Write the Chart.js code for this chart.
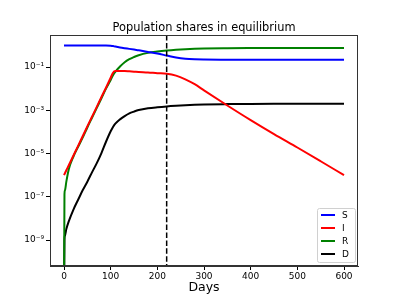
<!DOCTYPE html>
<html><head><meta charset="utf-8">
<script src="https://cdn.jsdelivr.net/npm/chart.js@4"></script>
<style>html,body{margin:0;padding:0;background:#fff}#c{display:block}</style>
</head><body>
<canvas id="c" width="399" height="299"></canvas>
<script>
const days = [0,1,2,5,10,20,30,40,50,60,70,80,90,100,105,110,120,130,140,150,160,180,200,220,240,260,280,300,350,400,450,500,550,600];
const susceptible = [0.99,0.99,0.99,0.99,0.99,0.99,0.99,0.99,0.99,0.99,0.99,0.99,0.99,0.96,0.93,0.88,0.80,0.74,0.69,0.64,0.59,0.50,0.42,0.34,0.275,0.24,0.226,0.221,0.218,0.216,0.215,0.215,0.215,0.215];
const infected = [1.0e-6,1.1e-6,1.23e-6,1.68e-6,2.8e-6,7.9e-6,2.2e-5,6.3e-5,1.8e-4,5.0e-4,1.4e-3,4.0e-3,1.1e-2,3.2e-2,0.054,0.065,0.066,0.065,0.063,0.061,0.059,0.056,0.052,0.049,0.040,0.027,0.0160,0.0083,0.00166,3.5e-4,7.9e-5,1.9e-5,4.4e-6,1.0e-6];
const recovered = [1e-12,1.3e-7,2.0e-7,5.0e-7,1.8e-6,7.1e-6,2.0e-5,5.4e-5,1.6e-4,4.5e-4,1.26e-3,3.5e-3,0.010,0.025,0.042,0.060,0.105,0.166,0.23,0.29,0.35,0.45,0.52,0.58,0.63,0.67,0.70,0.72,0.74,0.75,0.755,0.755,0.755,0.755];
const dead = [1e-12,1.0e-9,1.6e-9,3.2e-9,7.1e-9,2.5e-8,7.1e-8,2.0e-7,5.0e-7,1.35e-6,3.5e-6,1.02e-5,3.5e-5,1.07e-4,1.7e-4,2.4e-4,3.8e-4,5.4e-4,7.2e-4,8.7e-4,1.02e-3,1.23e-3,1.38e-3,1.51e-3,1.62e-3,1.72e-3,1.8e-3,1.86e-3,1.93e-3,1.97e-3,1.99e-3,2.0e-3,2.0e-3,2.0e-3];
const seriesLabels = ['S','I','R','D'];
const xTicks = [0,100,200,300,400,500,600];
const yTicks = [1e-9,1e-7,1e-5,1e-3,1e-1];
const markerDay = 220;
const titleText = 'Population shares in equilibrium';
const xLabel = 'Days';

const colors = ['#0000ff','#ff0000','#008000','#000000'];
const seriesValues = [susceptible, infected, recovered, dead];
const FONT = "'DejaVu Sans', sans-serif";

const sup = {'-':'\u207b','0':'\u2070','1':'\u00b9','2':'\u00b2','3':'\u00b3','4':'\u2074','5':'\u2075','6':'\u2076','7':'\u2077','8':'\u2078','9':'\u2079'};
function fmtPow(v){
  const e = Math.round(Math.log10(v));
  return '10' + String(e).split('').map(c=>sup[c]).join('');
}

const datasets = seriesValues.map((vals,i)=>({
  label: seriesLabels[i],
  data: days.map((d,j)=>({x:d, y:vals[j]})),
  borderColor: colors[i],
  backgroundColor: colors[i],
  borderWidth: 2,
  pointRadius: 0,
  fill: false,
  cubicInterpolationMode: 'monotone'
}));

const deco = {
  id: 'deco',
  afterDatasetsDraw(chart){
    const ctx = chart.ctx, a = chart.chartArea;
    const xs = chart.scales.x;
    const px = xs.getPixelForValue(markerDay);
    ctx.save();
    ctx.strokeStyle = '#000';
    ctx.lineWidth = 1.5;
    ctx.setLineDash([5.5,2.4]);
    ctx.beginPath();
    ctx.moveTo(px, a.top); ctx.lineTo(px, a.bottom);
    ctx.stroke();
    ctx.setLineDash([]);
    ctx.strokeStyle = '#333';
    ctx.lineWidth = 1;
    ctx.strokeRect(Math.round(a.left)+0.5, Math.round(a.top)+0.5, Math.round(a.right-a.left)-1, Math.round(a.bottom-a.top)-1);
    ctx.fillStyle = '#000';
    ctx.font = '11.4px ' + FONT;
    ctx.textAlign = 'center';
    ctx.textBaseline = 'alphabetic';
    ctx.fillText(titleText, (a.left+a.right)/2, 30.5);
    const bx = a.right - 41, by = a.bottom - 58, bw = 38, bh = 54;
    ctx.fillStyle = 'rgba(255,255,255,0.8)';
    ctx.strokeStyle = '#d0d0d0';
    ctx.lineWidth = 1;
    ctx.beginPath();
    if (ctx.roundRect) ctx.roundRect(bx+0.5, by+0.5, bw, bh, 2); else ctx.rect(bx+0.5, by+0.5, bw, bh);
    ctx.fill(); ctx.stroke();
    ctx.font = '9px ' + FONT;
    ctx.textAlign = 'left';
    ctx.textBaseline = 'middle';
    chart.data.datasets.forEach((ds,i)=>{
      const y = by + 7 + i*13;
      ctx.strokeStyle = ds.borderColor;
      ctx.lineWidth = 2;
      ctx.beginPath();
      ctx.moveTo(bx+4, y); ctx.lineTo(bx+18, y);
      ctx.stroke();
      ctx.fillStyle = '#000';
      ctx.fillText(ds.label, bx+25, y+0.5);
    });
    ctx.restore();
  }
};

new Chart(document.getElementById('c'), {
  type: 'line',
  data: { datasets },
  options: {
    responsive: false,
    animation: false,
    events: [],
    layout: { padding: { top: 35, right: 41, left: 0, bottom: 0 } },
    plugins: { legend: { display: false }, title: { display: false }, tooltip: { enabled: false } },
    scales: {
      x: {
        type: 'linear', min: -30, max: 630,
        afterBuildTicks: s => { s.ticks = xTicks.map(v=>({value:v})); },
        afterFit: s => { s.height = 33; },
        ticks: { color: '#000', font: { family: FONT, size: 9 }, maxRotation: 0, padding: 1, callback: v => String(v) },
        grid: { drawOnChartArea: false, drawTicks: true, tickLength: 4, color: '#000' },
        border: { display: true, color: '#333', width: 1 },
        title: { display: true, text: xLabel, color: '#000', font: { family: FONT, size: 12.5 }, padding: { top: 0, bottom: 4 } }
      },
      y: {
        type: 'logarithmic', min: Math.pow(10,-10.2), max: Math.pow(10,0.48),
        afterBuildTicks: s => { s.ticks = yTicks.map(v=>({value:v})); },
        afterFit: s => { s.width = 50; },
        ticks: { color: '#000', font: { family: FONT, size: 9 }, padding: 2, callback: v => fmtPow(v) },
        grid: { drawOnChartArea: false, drawTicks: true, tickLength: 4, color: '#000' },
        border: { display: true, color: '#333', width: 1 }
      }
    }
  },
  plugins: [deco]
});
</script>
</body></html>
